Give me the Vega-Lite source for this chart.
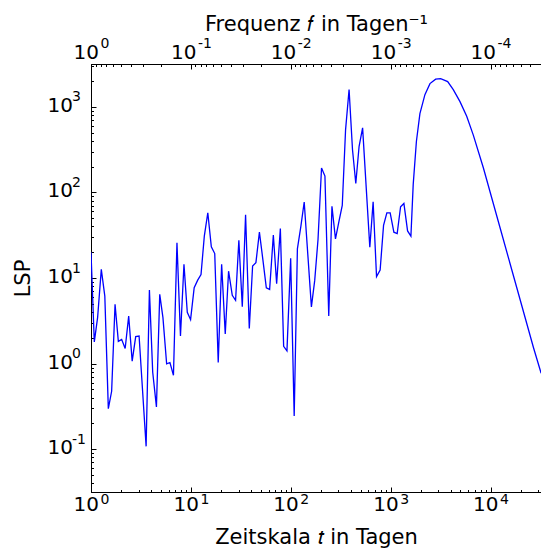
{
  "$schema": "https://vega.github.io/schema/vega-lite/v6.json",
  "autosize": {"type": "none"},
  "padding": {"left": 91, "top": 64, "right": 0, "bottom": 57},
  "width": 450,
  "height": 428,
  "background": "white",
  "config": {
    "view": {"stroke": "black", "strokeWidth": 1},
    "axis": {
      "grid": false,
      "domainColor": "black",
      "domainWidth": 1,
      "tickColor": "black",
      "tickWidth": 1,
      "labelColor": "black",
      "titleColor": "black",
      "labelFont": "DejaVu Sans",
      "titleFont": "DejaVu Sans",
      "labelFontSize": 20,
      "titleFontSize": 21,
      "titleFontWeight": "normal",
      "labelOverlap": false,
      "labelBound": false,
      "labelFlush": false
    }
  },
  "data": {
    "values": [
      {"t": 1, "lsp": 20}, {"t": 1.079, "lsp": 1.79}, {"t": 1.165, "lsp": 3.47}, {"t": 1.268, "lsp": 12.6},
      {"t": 1.375, "lsp": 6.15}, {"t": 1.491, "lsp": 0.298}, {"t": 1.609, "lsp": 0.475}, {"t": 1.741, "lsp": 4.92},
      {"t": 1.878, "lsp": 1.82}, {"t": 2.027, "lsp": 1.92}, {"t": 2.198, "lsp": 1.5}, {"t": 2.384, "lsp": 3.59},
      {"t": 2.584, "lsp": 1.07}, {"t": 2.802, "lsp": 2.07}, {"t": 3.03, "lsp": 2.1}, {"t": 3.563, "lsp": 0.108},
      {"t": 3.844, "lsp": 7.26}, {"t": 4.148, "lsp": 0.791}, {"t": 4.519, "lsp": 0.312}, {"t": 4.877, "lsp": 6.44},
      {"t": 5.251, "lsp": 3.44}, {"t": 5.718, "lsp": 0.995}, {"t": 6.171, "lsp": 1.03}, {"t": 6.69, "lsp": 0.73},
      {"t": 7.255, "lsp": 25.8}, {"t": 7.865, "lsp": 2.1}, {"t": 8.526, "lsp": 14.5}, {"t": 9.203, "lsp": 3.97},
      {"t": 9.93, "lsp": 3.26}, {"t": 10.79, "lsp": 7.7}, {"t": 11.7, "lsp": 9.45}, {"t": 12.63, "lsp": 11.0},
      {"t": 13.63, "lsp": 30.8}, {"t": 14.77, "lsp": 57.8}, {"t": 16.02, "lsp": 23.1}, {"t": 17.33, "lsp": 19.3},
      {"t": 18.78, "lsp": 1.03}, {"t": 20.32, "lsp": 14.5}, {"t": 22.08, "lsp": 2.22}, {"t": 23.84, "lsp": 12.0},
      {"t": 25.96, "lsp": 6.27}, {"t": 28.02, "lsp": 5.48}, {"t": 30.22, "lsp": 27.6}, {"t": 32.7, "lsp": 4.62},
      {"t": 35.28, "lsp": 54.8}, {"t": 38.43, "lsp": 2.57}, {"t": 41.48, "lsp": 13.8}, {"t": 44.77, "lsp": 15.1},
      {"t": 48.53, "lsp": 34.3}, {"t": 52.6, "lsp": 16.3}, {"t": 56.91, "lsp": 7.7}, {"t": 61.43, "lsp": 7.36},
      {"t": 66.91, "lsp": 31.7}, {"t": 72.2, "lsp": 8.6}, {"t": 78.64, "lsp": 37.9}, {"t": 84.85, "lsp": 1.59},
      {"t": 91.58, "lsp": 1.41}, {"t": 99.75, "lsp": 17.0}, {"t": 108.2, "lsp": 0.245}, {"t": 116.5, "lsp": 21.9},
      {"t": 126.3, "lsp": 40.3}, {"t": 136.3, "lsp": 77.3}, {"t": 160.9, "lsp": 4.6}, {"t": 173.7, "lsp": 9.38},
      {"t": 187.4, "lsp": 28.2}, {"t": 203.2, "lsp": 193}, {"t": 219.8, "lsp": 155}, {"t": 240.0, "lsp": 3.61},
      {"t": 258.4, "lsp": 69.0}, {"t": 280.2, "lsp": 28.7}, {"t": 303.7, "lsp": 45.8}, {"t": 327.7, "lsp": 70.3},
      {"t": 353.8, "lsp": 542}, {"t": 383.5, "lsp": 1590}, {"t": 414.8, "lsp": 317}, {"t": 447.7, "lsp": 127},
      {"t": 483.1, "lsp": 346}, {"t": 523.8, "lsp": 567}, {"t": 618.6, "lsp": 22.9}, {"t": 667.6, "lsp": 77.7},
      {"t": 722.1, "lsp": 10.4}, {"t": 784.7, "lsp": 12.4}, {"t": 848.9, "lsp": 41.1}, {"t": 916.1, "lsp": 57.8},
      {"t": 988.6, "lsp": 57.8}, {"t": 1077, "lsp": 34.3}, {"t": 1162, "lsp": 33.1}, {"t": 1257, "lsp": 67.9},
      {"t": 1357, "lsp": 74.2}, {"t": 1477, "lsp": 35.5}, {"t": 1595, "lsp": 30.8}, {"t": 1682, "lsp": 124},
      {"t": 1810, "lsp": 393}, {"t": 1963, "lsp": 833}, {"t": 2203, "lsp": 1388}, {"t": 2474, "lsp": 1866},
      {"t": 2821, "lsp": 2105}, {"t": 3166, "lsp": 2133}, {"t": 3722, "lsp": 1968}, {"t": 4236, "lsp": 1588},
      {"t": 4945, "lsp": 1150}, {"t": 5772, "lsp": 775}, {"t": 6722, "lsp": 467}, {"t": 8470, "lsp": 194},
      {"t": 12454, "lsp": 38.6}, {"t": 18316, "lsp": 7.7}, {"t": 26880, "lsp": 1.54}, {"t": 32100, "lsp": 0.77}
    ]
  },
  "resolve": {"axis": {"x": "independent", "y": "independent"}},
  "layer": [
    {
      "mark": {"type": "line", "color": "#0000ff", "strokeWidth": 1.3, "clip": true},
      "encoding": {
        "x": {
          "field": "t", "type": "quantitative",
          "scale": {"type": "log", "domain": [1, 32000], "nice": false, "zero": false},
          "axis": {
            "orient": "bottom",
            "title": "Zeitskala 𝑡 in Tagen",
            "values": [1,2,3,4,5,6,7,8,9,10,20,30,40,50,60,70,80,90,100,200,300,400,500,600,700,800,900,1000,2000,3000,4000,5000,6000,7000,8000,9000,10000,20000,30000],
            "labelExpr": "abs(log(datum.value)/LN10 - round(log(datum.value)/LN10)) < 0.001 ? '10' : ''",
            "labelAlign": "right",
            "labelOffset": 7.5,
            "tickSize": {"condition": {"test": "abs(log(datum.value)/LN10 - round(log(datum.value)/LN10)) < 0.001", "value": -5}, "value": -2.5},
            "labelPadding": 7,
            "titlePadding": 10
          }
        },
        "y": {
          "field": "lsp", "type": "quantitative",
          "scale": {"type": "log", "domain": [0.031623, 3162.3], "nice": false, "zero": false},
          "axis": {
            "orient": "left",
            "title": "LSP",
            "values": [0.04,0.05,0.06,0.07,0.08,0.09,0.1,0.2,0.3,0.4,0.5,0.6,0.7,0.8,0.9,1,2,3,4,5,6,7,8,9,10,20,30,40,50,60,70,80,90,100,200,300,400,500,600,700,800,900,1000,2000,3000],
            "labelExpr": "abs(log(datum.value)/LN10 - round(log(datum.value)/LN10)) < 0.001 ? '10' : ''",
            "labelOffset": -1.5,
            "tickSize": {"condition": {"test": "abs(log(datum.value)/LN10 - round(log(datum.value)/LN10)) < 0.001", "value": -5}, "value": -2.5},
            "labelPadding": 23.5,
            "titlePadding": 14
          }
        }
      }
    },
    {
      "mark": {"type": "line", "color": "#0000ff", "strokeOpacity": 0, "clip": true},
      "encoding": {
        "x": {
          "field": "t", "type": "quantitative",
          "scale": {"type": "log", "domain": [1, 32000], "nice": false, "zero": false},
          "axis": {
            "orient": "bottom",
            "title": null,
            "domain": false,
            "ticks": false,
            "values": [1,10,100,1000,10000],
            "labelExpr": "'' + round(log(datum.value)/LN10)",
            "labelFontSize": 14,
            "labelAlign": "left",
            "labelOffset": 9,
            "labelPadding": 0.5
          }
        },
        "y": {
          "field": "lsp", "type": "quantitative",
          "scale": {"type": "log", "domain": [0.031623, 3162.3], "nice": false, "zero": false},
          "axis": {
            "orient": "left",
            "title": null,
            "domain": false,
            "ticks": false,
            "values": [0.1,1,10,100,1000],
            "labelExpr": "'' + round(log(datum.value)/LN10)",
            "labelFontSize": 14,
            "labelAlign": "left",
            "labelOffset": -10,
            "labelPadding": 19.5
          }
        }
      }
    },
    {
      "mark": {"type": "line", "color": "#0000ff", "strokeOpacity": 0, "clip": true},
      "encoding": {
        "x": {
          "field": "t", "type": "quantitative",
          "scale": {"type": "log", "domain": [1, 32000], "nice": false, "zero": false},
          "axis": {
            "orient": "top",
            "title": "Frequenz 𝑓 in Tagen⁻¹",
            "values": [1,1.1111,1.25,1.4286,1.6667,2,2.5,3.3333,5,10,11.111,12.5,14.286,16.667,20,25,33.333,50,100,111.11,125,142.86,166.67,200,250,333.33,500,1000,1111.1,1250,1428.6,1666.7,2000,2500,3333.3,5000,10000,11111,12500,14286,16667,20000,25000],
            "labelExpr": "abs(log(datum.value)/LN10 - round(log(datum.value)/LN10)) < 0.001 ? '10' : ''",
            "labelAlign": "right",
            "labelOffset": {"condition": {"test": "datum.value == 1", "value": 7.5}, "value": 5},
            "tickSize": {"condition": {"test": "abs(log(datum.value)/LN10 - round(log(datum.value)/LN10)) < 0.001", "value": -5}, "value": -2.5},
            "labelPadding": 7,
            "titlePadding": 5
          }
        },
        "y": {
          "field": "lsp", "type": "quantitative",
          "scale": {"type": "log", "domain": [0.031623, 3162.3], "nice": false, "zero": false},
          "axis": null
        }
      }
    },
    {
      "mark": {"type": "line", "color": "#0000ff", "strokeOpacity": 0, "clip": true},
      "encoding": {
        "x": {
          "field": "t", "type": "quantitative",
          "scale": {"type": "log", "domain": [1, 32000], "nice": false, "zero": false},
          "axis": {
            "orient": "top",
            "title": null,
            "domain": false,
            "ticks": false,
            "values": [1,10,100,1000,10000],
            "labelExpr": "datum.value == 1 ? '0' : '-' + round(log(datum.value)/LN10)",
            "labelFontSize": 14,
            "labelAlign": "left",
            "labelOffset": {"condition": {"test": "datum.value == 1", "value": 9}, "value": 6.5},
            "labelPadding": 14
          }
        },
        "y": {
          "field": "lsp", "type": "quantitative",
          "scale": {"type": "log", "domain": [0.031623, 3162.3], "nice": false, "zero": false},
          "axis": null
        }
      }
    }
  ]
}
